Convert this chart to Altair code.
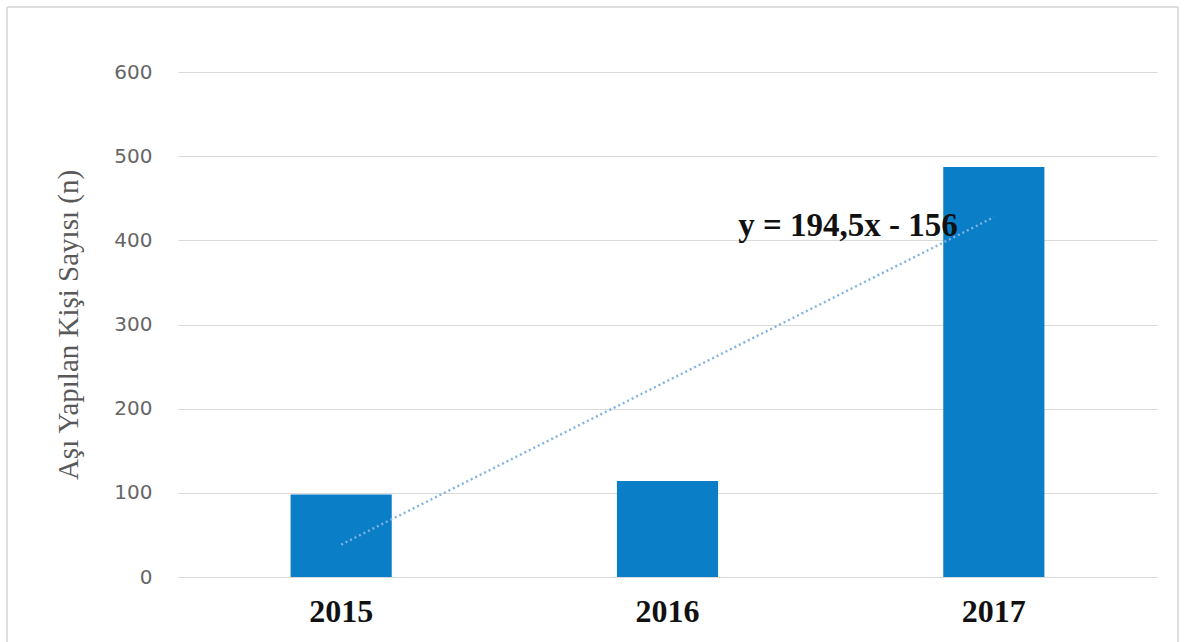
import altair as alt
import pandas as pd

years = ["2015", "2016", "2017"]
counts = [98, 114, 487]
trend = [38.5, 233, 427.5]
equation = "y = 194,5x - 156"

df = pd.DataFrame({"year": years, "count": counts, "trend": trend})
lab = pd.DataFrame({"year": ["2017"], "v": [417], "t": [equation]})

xscale = alt.Scale(paddingInner=0.69, paddingOuter=0.345)
yscale = alt.Scale(domain=[0, 600])

bars = alt.Chart(df).mark_bar(color="#0a7ec6").encode(
    x=alt.X("year:N", scale=xscale, title=None,
            axis=alt.Axis(labelAngle=0, labelFont="Liberation Serif", labelFontSize=32,
                          labelFontWeight="bold", labelColor="#111111", labelPadding=19,
                          ticks=False, domain=False, grid=False)),
    y=alt.Y("count:Q", scale=yscale, title="Aşı Yapılan Kişi Sayısı (n)",
            axis=alt.Axis(values=[0, 100, 200, 300, 400, 500, 600], labelFont="DejaVu Sans",
                          labelFontSize=20, labelColor="#666666", labelPadding=26,
                          ticks=False, domain=False, gridColor="#d9d9d9", gridWidth=1,
                          titleFont="Liberation Serif", titleFontSize=29, titleFontWeight="normal",
                          titleColor="#595959", titlePadding=30)),
)

line = alt.Chart(df).mark_line(color="#7fb3e3", strokeWidth=2.4, strokeDash=[2, 3]).encode(
    x=alt.X("year:N", scale=xscale),
    y=alt.Y("trend:Q", scale=yscale),
)

text = alt.Chart(lab).mark_text(font="Liberation Serif", fontSize=33, fontWeight="bold",
                                color="#111111", align="right", baseline="middle", dx=-36).encode(
    x=alt.X("year:N", scale=xscale),
    y=alt.Y("v:Q", scale=yscale),
    text="t:N",
)

frame = alt.Chart(df).mark_rect(fill=None, stroke="#d9d9d9", strokeWidth=1).encode(
    x=alt.value(-171), x2=alt.value(1000), y=alt.value(-65), y2=alt.value(580)
)

chart = alt.layer(frame, bars, line, text).properties(
    width=979, height=505,
    autosize=alt.AutoSizeParams(type="none"),
    padding={"left": 178, "top": 72, "right": 29, "bottom": 65},
    background="white",
).configure_view(stroke=None)

chart.save("out.html", embed_options={"renderer": "svg", "actions": False})
